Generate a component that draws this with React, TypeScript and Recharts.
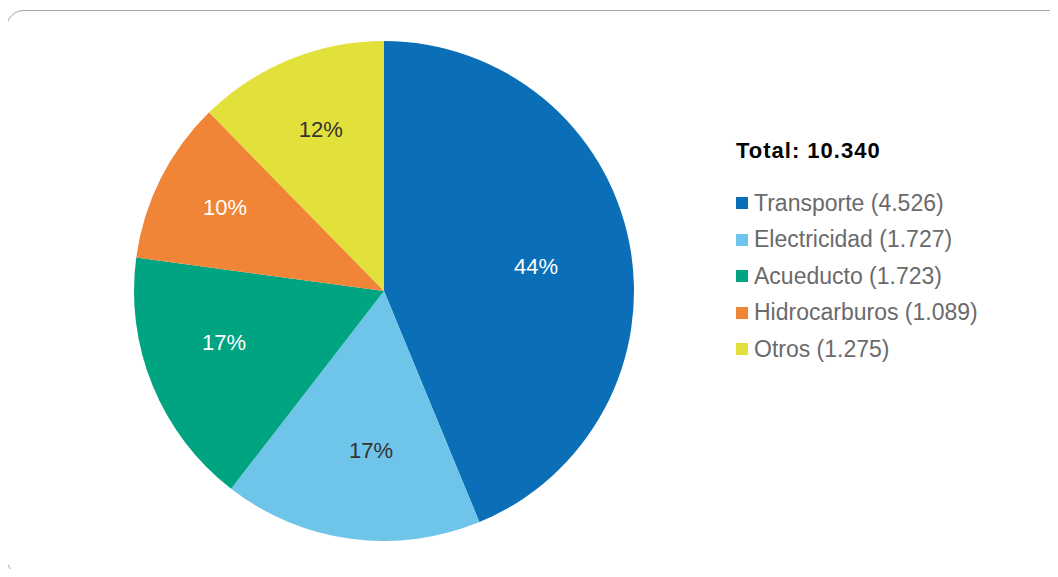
import React from 'react';
import { PieChart, Pie, Cell, Legend } from 'recharts';

const categories = ['Transporte', 'Electricidad', 'Acueducto', 'Hidrocarburos', 'Otros'];
const values = [4526, 1727, 1723, 1089, 1275];
const percentLabels = ['44%', '17%', '17%', '10%', '12%'];
const colors = ['#0b6fb7', '#6fc4e9', '#00a480', '#f08537', '#e2e03b'];
const labelColors = ['#ffffff', '#333333', '#ffffff', '#ffffff', '#333333'];
// label placement: share of radius, and a small clockwise nudge in degrees
const labelRadius = [0.616, 0.642, 0.673, 0.719, 0.692];
const labelNudge = [2.2, -3, 4.3, 1.2, 0.8];

const FONT = '"Liberation Sans", Arial, sans-serif';

const fmt = (n: number) => n.toString().replace(/\B(?=(\d{3})+(?!\d))/g, '.');

const data = categories.map((name, i) => ({ name, value: values[i] }));
const total = values.reduce((a, b) => a + b, 0);

const RADIAN = Math.PI / 180;

const renderLabel = (props: any) => {
  const { cx, cy, midAngle, outerRadius, index } = props;
  const r = outerRadius * labelRadius[index];
  const a = midAngle - labelNudge[index];
  const x = cx + r * Math.cos(-a * RADIAN);
  const y = cy + r * Math.sin(-a * RADIAN);
  return (
    <text
      x={x}
      y={y}
      fill={labelColors[index]}
      textAnchor="middle"
      dominantBaseline="central"
      fontSize={22}
      fontFamily={FONT}
    >
      {percentLabels[index]}
    </text>
  );
};

const LegendContent = () => (
  <div style={{ fontFamily: FONT }}>
    <div style={{ fontWeight: 'bold', fontSize: 22, letterSpacing: 1, color: '#000', marginBottom: 21 }}>
      Total: {fmt(total)}
    </div>
    {data.map((d, i) => (
      <div key={d.name} style={{ display: 'flex', alignItems: 'center', height: 36.5 }}>
        <span style={{ width: 12, height: 12, background: colors[i], marginRight: 6, display: 'inline-block' }} />
        <span style={{ fontSize: 23, color: '#6a6a6c' }}>{`${d.name} (${fmt(d.value)})`}</span>
      </div>
    ))}
  </div>
);

const App: React.FC = () => {
  return (
    <div style={{ position: 'relative', width: 1058, height: 577, margin: -8, overflow: 'hidden', background: '#fff' }}>
      <div
        style={{
          position: 'absolute',
          left: 6,
          top: 10,
          width: 1070,
          height: 566,
          border: '1px solid #a3a3a3',
          borderRadius: 18,
          boxSizing: 'border-box',
        }}
      />
      <div style={{ position: 'absolute', left: 0, top: 0 }}>
        <PieChart width={1058} height={577} margin={{ top: 0, right: 0, bottom: 0, left: 0 }}>
          <Pie
            data={data}
            dataKey="value"
            nameKey="name"
            cx={384}
            cy={291}
            outerRadius={250}
            startAngle={90}
            endAngle={-270}
            stroke="none"
            label={renderLabel}
            labelLine={false}
            isAnimationActive={false}
          >
            {data.map((d, i) => (
              <Cell key={d.name} fill={colors[i]} />
            ))}
          </Pie>
          <Legend
            content={<LegendContent />}
            layout="vertical"
            wrapperStyle={{ position: 'absolute', left: 736, top: 138, width: 310 }}
          />
        </PieChart>
      </div>
    </div>
  );
};

export default App;
